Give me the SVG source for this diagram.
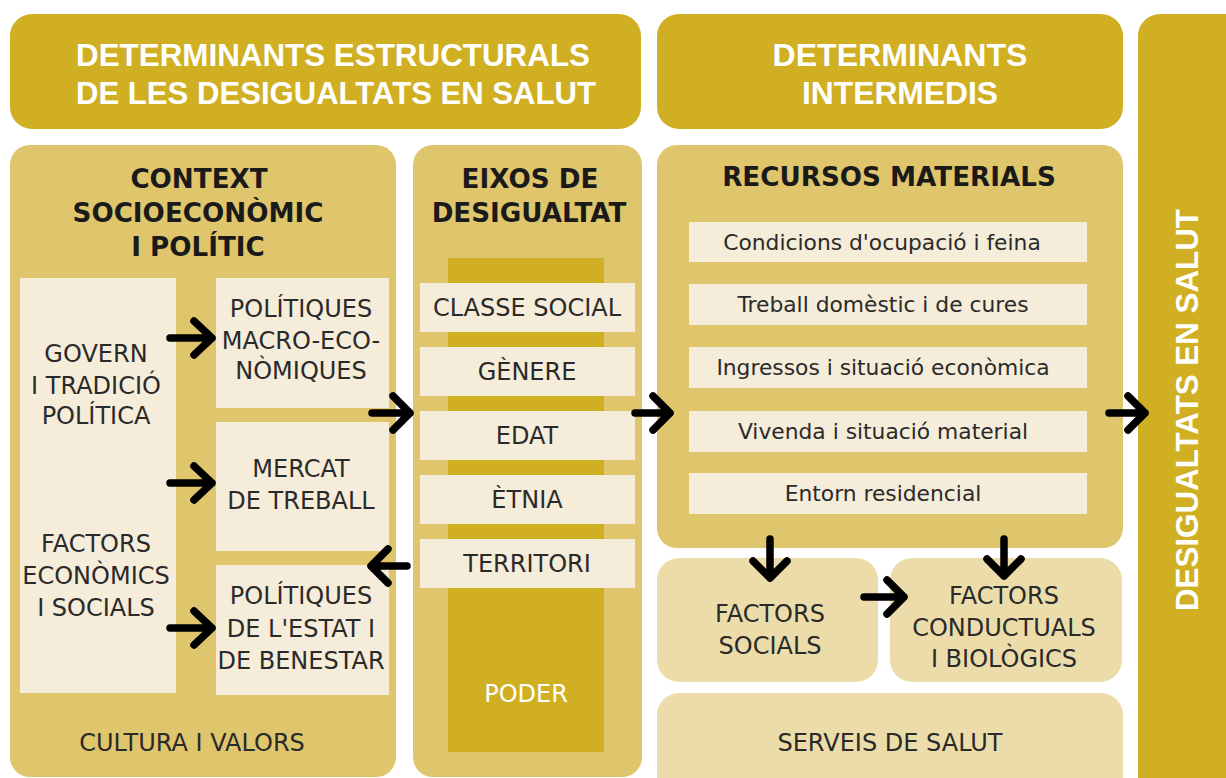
<svg xmlns="http://www.w3.org/2000/svg" width="1226" height="778" viewBox="0 0 1226 778">
<defs>
<style>
.gold{fill:#D1AF23}
.panel{fill:#DFC56C}
.cream{fill:#F5ECD9}
.light{fill:#ECDCA9}
.hdr{font-family:"Liberation Sans",Arial,sans-serif;font-weight:bold;font-size:31px;fill:#ffffff;text-anchor:middle}
.ttl{font-family:"DejaVu Sans",sans-serif;font-weight:bold;font-size:26.2px;fill:#1a1a1a;text-anchor:middle}
.txt{font-family:"DejaVu Sans",sans-serif;font-size:24px;fill:#2a2a2a;text-anchor:middle}
.sm{font-family:"DejaVu Sans",sans-serif;font-size:21.8px;fill:#2a2a2a;text-anchor:middle}
.arr{fill:none;stroke:#000000;stroke-width:7.5;stroke-linecap:round;stroke-linejoin:round}
</style>
</defs>
<rect width="1226" height="778" fill="#ffffff"/>

<g id="header-estructurals">
<rect class="gold" x="10" y="14" width="631" height="115" rx="22"/>
<text class="hdr" x="333" y="66" textLength="514" lengthAdjust="spacingAndGlyphs">DETERMINANTS ESTRUCTURALS</text>
<text class="hdr" x="336" y="104" textLength="520" lengthAdjust="spacingAndGlyphs">DE LES DESIGUALTATS EN SALUT</text>
</g>

<g id="header-intermedis">
<rect class="gold" x="657" y="14" width="466" height="115" rx="22"/>
<text class="hdr" x="900" y="66" textLength="255" lengthAdjust="spacingAndGlyphs">DETERMINANTS</text>
<text class="hdr" x="900" y="104" textLength="196" lengthAdjust="spacingAndGlyphs">INTERMEDIS</text>
</g>

<g id="desigualtats-salut">
<rect class="gold" x="1138" y="14" width="120" height="800" rx="22"/>
<text class="hdr" transform="translate(1187,410) rotate(-90)" x="0" y="11" font-size="30" textLength="402" lengthAdjust="spacingAndGlyphs">DESIGUALTATS EN SALUT</text>
</g>

<g id="context">
<rect class="panel" x="10" y="145" width="386" height="632" rx="20"/>
<text class="ttl" x="199" y="188">CONTEXT</text>
<text class="ttl" x="198" y="222">SOCIOECONÒMIC</text>
<text class="ttl" x="198" y="256">I POLÍTIC</text>
<text class="txt" x="192" y="751">CULTURA I VALORS</text>
</g>

<g id="govern-factors">
<rect class="cream" x="20" y="278" width="156" height="415"/>
<text class="txt" x="96" y="362">GOVERN</text>
<text class="txt" x="96" y="394">I TRADICIÓ</text>
<text class="txt" x="96" y="424">POLÍTICA</text>
<text class="txt" x="96" y="552">FACTORS</text>
<text class="txt" x="96" y="584">ECONÒMICS</text>
<text class="txt" x="96" y="616">I SOCIALS</text>
</g>

<g id="politiques-macro">
<rect class="cream" x="216" y="278" width="173" height="130"/>
<text class="txt" x="301" y="317">POLÍTIQUES</text>
<text class="txt" x="301" y="349">MACRO-ECO-</text>
<text class="txt" x="301" y="379">NÒMIQUES</text>
</g>

<g id="mercat">
<rect class="cream" x="216" y="422" width="173" height="129"/>
<text class="txt" x="301" y="477">MERCAT</text>
<text class="txt" x="301" y="509">DE TREBALL</text>
</g>

<g id="politiques-estat">
<rect class="cream" x="216" y="565" width="173" height="130"/>
<text class="txt" x="301" y="604">POLÍTIQUES</text>
<text class="txt" x="301" y="637">DE L'ESTAT I</text>
<text class="txt" x="301" y="669">DE BENESTAR</text>
</g>

<g id="eixos">
<rect class="panel" x="413" y="145" width="229" height="632" rx="20"/>
<text class="ttl" x="530" y="188">EIXOS DE</text>
<text class="ttl" x="529" y="222">DESIGUALTAT</text>
<rect class="gold" x="448" y="258" width="156" height="494"/>
<text class="txt" x="526" y="702" style="fill:#ffffff">PODER</text>
</g>

<g id="classe-social">
<rect class="cream" x="420" y="283" width="215" height="49"/>
<text class="txt" x="527" y="316">CLASSE SOCIAL</text>
</g>
<g id="genere">
<rect class="cream" x="420" y="347" width="215" height="49"/>
<text class="txt" x="527" y="380">GÈNERE</text>
</g>
<g id="edat">
<rect class="cream" x="420" y="411" width="215" height="49"/>
<text class="txt" x="527" y="444">EDAT</text>
</g>
<g id="etnia">
<rect class="cream" x="420" y="475" width="215" height="49"/>
<text class="txt" x="527" y="508">ÈTNIA</text>
</g>
<g id="territori">
<rect class="cream" x="420" y="539" width="215" height="49"/>
<text class="txt" x="527" y="572">TERRITORI</text>
</g>

<g id="recursos">
<rect class="panel" x="657" y="145" width="466" height="403" rx="20"/>
<text class="ttl" x="889" y="186">RECURSOS MATERIALS</text>
</g>
<g id="condicions">
<rect class="cream" x="689" y="222" width="398" height="40"/>
<text class="sm" x="882" y="250">Condicions d'ocupació i feina</text>
</g>
<g id="treball-domestic">
<rect class="cream" x="689" y="284" width="398" height="41"/>
<text class="sm" x="883" y="312">Treball domèstic i de cures</text>
</g>
<g id="ingressos">
<rect class="cream" x="689" y="347" width="398" height="41"/>
<text class="sm" x="883" y="375">Ingressos i situació econòmica</text>
</g>
<g id="vivenda">
<rect class="cream" x="689" y="411" width="398" height="41"/>
<text class="sm" x="883" y="439">Vivenda i situació material</text>
</g>
<g id="entorn">
<rect class="cream" x="689" y="473" width="398" height="41"/>
<text class="sm" x="883" y="501">Entorn residencial</text>
</g>

<g id="factors-socials">
<rect class="light" x="657" y="558" width="221" height="124" rx="22"/>
<text class="txt" x="770" y="622">FACTORS</text>
<text class="txt" x="770" y="654">SOCIALS</text>
</g>
<g id="factors-conductuals">
<rect class="light" x="890" y="558" width="232" height="124" rx="22"/>
<text class="txt" x="1004" y="604">FACTORS</text>
<text class="txt" x="1004" y="636">CONDUCTUALS</text>
<text class="txt" x="1004" y="667">I BIOLÒGICS</text>
</g>
<g id="serveis">
<rect class="light" x="657" y="693" width="466" height="110" rx="22"/>
<text class="txt" x="890" y="751">SERVEIS DE SALUT</text>
</g>

<g id="connectors">
<path class="arr" d="M170,338 H212 M194,321 L212,338 L194,355"/>
<path class="arr" d="M170,483 H212 M194,466 L212,483 L194,500"/>
<path class="arr" d="M170,628 H212 M194,611 L212,628 L194,645"/>
<path class="arr" d="M372,413 H410 M393,396 L410,413 L393,430"/>
<path class="arr" d="M407,566 H371 M388,549 L371,566 L388,583"/>
<path class="arr" d="M635,413 H670 M653,396 L670,413 L653,430"/>
<path class="arr" d="M1109,413 H1145 M1128,396 L1145,413 L1128,430"/>
<path class="arr" d="M770,539 V578 M753,561 L770,578 L787,561"/>
<path class="arr" d="M1004,539 V576 M987,559 L1004,576 L1021,559"/>
<path class="arr" d="M864,597 H904 M887,580 L904,597 L887,614"/>
</g>
</svg>
